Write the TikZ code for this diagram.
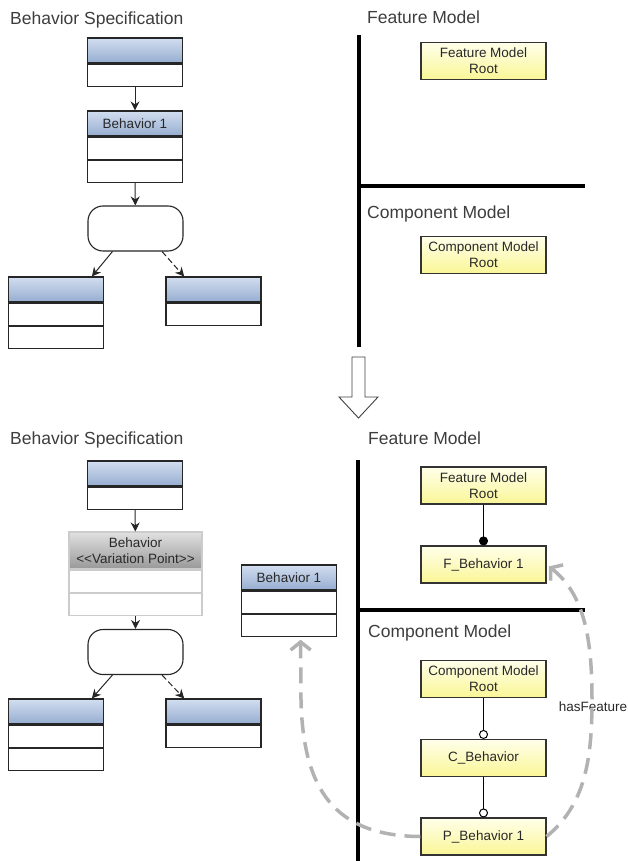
\documentclass[tikz,border=0pt]{standalone}
\usepackage{fontspec}
\setmainfont{Liberation Sans}
\usetikzlibrary{positioning,arrows.meta}

\definecolor{hdrtop}{RGB}{210,222,240}
\definecolor{hdrbot}{RGB}{150,173,208}
\definecolor{vptop}{RGB}{225,225,225}
\definecolor{vpbot}{RGB}{152,152,152}
\definecolor{ytop}{RGB}{255,255,234}
\definecolor{ybot}{RGB}{250,246,150}
\definecolor{txt}{RGB}{40,40,40}
\definecolor{linkgray}{RGB}{178,178,178}

\newcommand{\diagtitlefont}{\fontsize{17.5}{20}\selectfont}
\newcommand{\diagboxfont}{\fontsize{13.5}{16}\selectfont}

\begin{document}
\begin{tikzpicture}[x=1pt,y=-1pt,>={Stealth[length=9pt,width=9pt]},
    ttl/.style={anchor=base west, inner sep=0pt, font=\diagtitlefont, text=txt!90},
    hdr/.style={rectangle, draw=black!85, line width=1.1pt, minimum width=95pt, minimum height=25pt,
      inner sep=1pt, top color=hdrtop, bottom color=hdrbot, font=\diagboxfont, text=txt},
    cmp/.style={rectangle, draw=black!85, line width=1.1pt, minimum width=95pt, minimum height=22pt,
      inner sep=0pt, fill=white},
    vphdr/.style={rectangle, draw=black!20, line width=1.1pt, minimum width=133pt, minimum height=37pt,
      inner sep=1pt, top color=vptop, bottom color=vpbot, align=center, font=\diagboxfont, text=txt},
    vpcmp/.style={rectangle, draw=black!20, line width=1.1pt, minimum width=133pt, minimum height=22pt,
      inner sep=0pt, fill=white},
    dec/.style={rectangle, rounded corners=15pt, draw=black!85, line width=1.1pt,
      minimum width=95pt, minimum height=45pt, fill=white},
    ybox/.style={rectangle, draw=black!80, line width=1.1pt, minimum width=125pt, minimum height=37pt,
      inner sep=1pt, top color=ytop, bottom color=ybot, align=center, font=\diagboxfont, text=txt},
    divider/.style={line width=4pt, black},
    flow/.style={->, line width=1pt, black!85},
    linkarc/.style={line width=3.5pt, linkgray, dash pattern=on 16pt off 9pt,
      -{Straight Barb[length=8pt,width=20pt]}, shorten >=3pt}]
  \useasboundingbox (0,0) rectangle (628,861);

  % Before: behavior specification
  \node[ttl] (spec0) at (10,24.5) {Behavior Specification};
  \node[hdr] (c1h) at (135,50.5) {};
  \node[cmp, below=0pt of c1h] (c1a) {};
  \node[hdr] (b1h) at (135,123.5) {Behavior 1};
  \node[cmp, below=0pt of b1h] (b1a) {};
  \node[cmp, below=0pt of b1a] (b1b) {};
  \node[dec] (d1) at (135.5,228.5) {};
  \node[hdr] (l1h) at (56,289.5) {};
  \node[cmp, below=0pt of l1h] (l1a) {};
  \node[cmp, below=0pt of l1a] (l1b) {};
  \node[hdr] (r1h) at (213.5,289.5) {};
  \node[cmp, below=0pt of r1h] (r1a) {};

  \draw[flow] (c1a) -- (b1h);
  \draw[flow] (b1b) -- (d1);
  \draw[flow] (d1.-135) -- (l1h.20);
  \draw[flow, dash pattern=on 6pt off 3pt] (d1.-41.4) -- (r1h.156.3);

  % Before: feature and component model
  \node[ttl] (fm0) at (367,24) {Feature Model};
  \node[ttl] (cm0) at (367,218.5) {Component Model};
  \draw[divider] (359,35) -- (359,347);
  \draw[divider] (359,186) -- (585,186);
  \node[ybox] (fmroot0) at (483.5,61) {Feature Model\\Root};
  \node[ybox] (cmroot0) at (483.5,255) {Component Model\\Root};

  % Transformation arrow
  \draw[line width=0.9pt, black!75, fill=white] (352,357) -- (365,357) -- (365,397) -- (378,397)
    -- (358.5,418) -- (339,397) -- (352,397) -- cycle;

  % After: behavior specification
  \node[ttl] (spec) at (10,444.5) {Behavior Specification};
  \node[hdr] (c2h) at (135,473.5) {};
  \node[cmp, below=0pt of c2h] (c2a) {};
  \node[vphdr] (vph) at (135.5,550.5) {Behavior\\<\kern0pt<Variation Point>\kern0pt>};
  \node[vpcmp, below=0pt of vph] (vpa) {};
  \node[vpcmp, below=0pt of vpa] (vpb) {};
  \node[dec] (d2) at (135.5,652) {};
  \node[hdr] (l2h) at (56,711.5) {};
  \node[cmp, below=0pt of l2h] (l2a) {};
  \node[cmp, below=0pt of l2a] (l2b) {};
  \node[hdr] (r2h) at (213.5,711.5) {};
  \node[cmp, below=0pt of r2h] (r2a) {};

  \draw[flow] (c2a) -- (vph);
  \draw[flow] (vpb) -- (d2);
  \draw[flow] (d2.-135) -- (l2h.20);
  \draw[flow, dash pattern=on 6pt off 3pt] (d2.-41.4) -- (r2h.156.3);

  % Extracted behavior
  \node[hdr] (b2h) at (289,577.5) {Behavior 1};
  \node[cmp, below=0pt of b2h] (b2a) {};
  \node[cmp, below=0pt of b2a] (b2b) {};

  % After: feature and component model
  \node[ttl] (fm) at (368,444) {Feature Model};
  \node[ttl] (cm) at (368,637.5) {Component Model};
  \draw[divider] (358,460) -- (358,861);
  \draw[divider] (358,610) -- (585,610);
  \node[ybox] (fmroot) at (483.5,485.5) {Feature Model\\Root};
  \node[ybox] (fbeh) at (483.5,564.5) {F\_Behavior 1};
  \node[ybox] (cmroot) at (483.5,679) {Component Model\\Root};
  \node[ybox] (cbeh) at (483.5,758) {C\_Behavior};
  \node[ybox] (pbeh) at (483.5,836.5) {P\_Behavior 1};

  \draw[line width=1pt, -{Circle[length=9pt]}] (fmroot) -- (fbeh);
  \draw[line width=1pt, -{Circle[open,length=9pt,fill=white]}] (cmroot) -- (cbeh);
  \draw[line width=1pt, -{Circle[open,length=9pt,fill=white]}] (cbeh) -- (pbeh);

  % Links
  \node[font=\diagboxfont, text=txt, inner sep=0pt] (hasf) at (593,707) {hasFeature};
  \draw[linkarc] (pbeh.west) .. controls (335,836) and (303,790) .. (301,700) -- (b2b.-45);
  \draw[linkarc] (pbeh.east) .. controls (585,805) and (592,760) .. (592,700)
    .. controls (592,640) and (585,595) .. (fbeh.east);
\end{tikzpicture}
\end{document}
